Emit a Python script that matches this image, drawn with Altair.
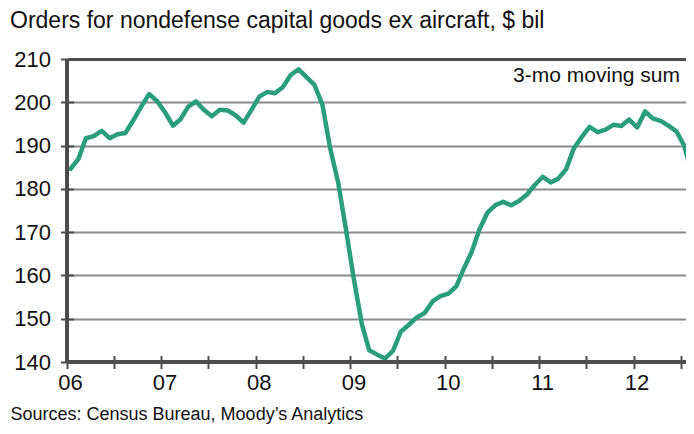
import altair as alt
import pandas as pd

months = pd.date_range("2006-01-01", periods=80, freq="MS") + pd.Timedelta(days=14)
values = [
    184.6, 187.0, 191.7, 192.2, 193.4, 191.7, 192.6, 192.9, 195.9, 199.0,
    201.9, 200.3, 197.7, 194.6, 196.0, 199.0, 200.2, 198.2, 196.8, 198.3,
    198.1, 197.0, 195.3, 198.2, 201.3, 202.4, 202.1, 203.5, 206.3, 207.6,
    205.8, 204.0, 199.4, 189.3, 181.4, 170.6, 158.9, 148.6, 142.7, 141.7,
    140.8, 142.6, 147.0, 148.6, 150.3, 151.3, 154.0, 155.2, 155.8, 157.5,
    161.5, 165.4, 170.6, 174.5, 176.2, 177.0, 176.2, 177.2, 178.7, 180.9,
    182.8, 181.5, 182.3, 184.5, 189.3, 192.0, 194.3, 193.1, 193.7, 194.8,
    194.5, 196.0, 194.2, 197.9, 196.3, 195.7, 194.6, 193.3, 190.0, 183.0,
]
tick_dates = [d.strftime("%Y-%m-%d") for d in pd.date_range("2006-01-01", "2012-07-01", freq="3MS")]
y_ticks = [140, 150, 160, 170, 180, 190, 200, 210]

title = "Orders for nondefense capital goods ex aircraft, $ bil"
source = "Sources: Census Bureau, Moody\u2019s Analytics"
note = "3-mo moving sum"

FONT = "Liberation Sans, Arial"

df = pd.DataFrame({"date": [d.strftime("%Y-%m-%d") for d in months], "value": values})

x_scale = alt.Scale(domain=["2006-01-01", "2012-07-22"])
y_scale = alt.Scale(domain=[140, 210], nice=False, zero=False)

base = alt.Chart(df)

line = base.mark_line(color="#2a9d7c", strokeWidth=4.5, strokeJoin="round", strokeCap="round").encode(
    x=alt.X("date:T", scale=x_scale,
            axis=alt.Axis(values=tick_dates, domain=False, grid=False, tickSize=13, offset=-6.5,
                          tickColor="#4d4d4d", tickWidth=2,
                          labelExpr="month(datum.value) == 0 ? timeFormat(datum.value, '%y') : ''",
                          labelFontSize=22, labelFont=FONT, labelColor="#111", labelPadding=4,
                          labelOffset=3, labelFlush=False, labelOverlap=False,
                          title=source, titleFont=FONT, titleFontSize=18, titleFontWeight="normal",
                          titleColor="#111", titleAnchor="start", titleAlign="left",
                          titleBaseline="alphabetic", titleX=-57, titleY=64)),
    y=alt.Y("value:Q", scale=y_scale,
            axis=alt.Axis(values=y_ticks, domain=False, tickSize=13, offset=-6.5,
                          tickColor="#4d4d4d", tickWidth=2,
                          gridColor={"condition": {"test": "datum.value === 210", "value": "#4d4d4d"}, "value": "#8a8a8a"},
                          gridWidth={"condition": {"test": "datum.value === 210", "value": 3}, "value": 2},
                          labelFontSize=22, labelFont=FONT, labelColor="#111", labelPadding=10,
                          labelFlush=False, title=None)),
)

y_line = alt.Chart(df).mark_rule(color="#4d4d4d", strokeWidth=2.5).encode(x=alt.datum(alt.DateTime(year=2006, month=1, date=1)))
x_line = alt.Chart(df).mark_rule(color="#4d4d4d", strokeWidth=2.5).encode(y=alt.datum(140))

label = alt.Chart(pd.DataFrame({"t": [note]})).mark_text(
    align="right", baseline="middle", fontSize=21, font=FONT, color="#111"
).encode(text="t:N", x=alt.value(613), y=alt.value(17))

chart = alt.layer(line, y_line, x_line, label).properties(
    width=619, height=303,
    autosize="none",
    padding={"left": 59, "top": 51, "right": 0, "bottom": 64},
    title=alt.TitleParams(title, anchor="start", frame="group", dx=-57, font=FONT, fontSize=23,
                          fontWeight="normal", color="#111", offset=15),
).configure_view(stroke=None)

chart.save("out.html", embed_options={"renderer": "svg", "actions": False})
